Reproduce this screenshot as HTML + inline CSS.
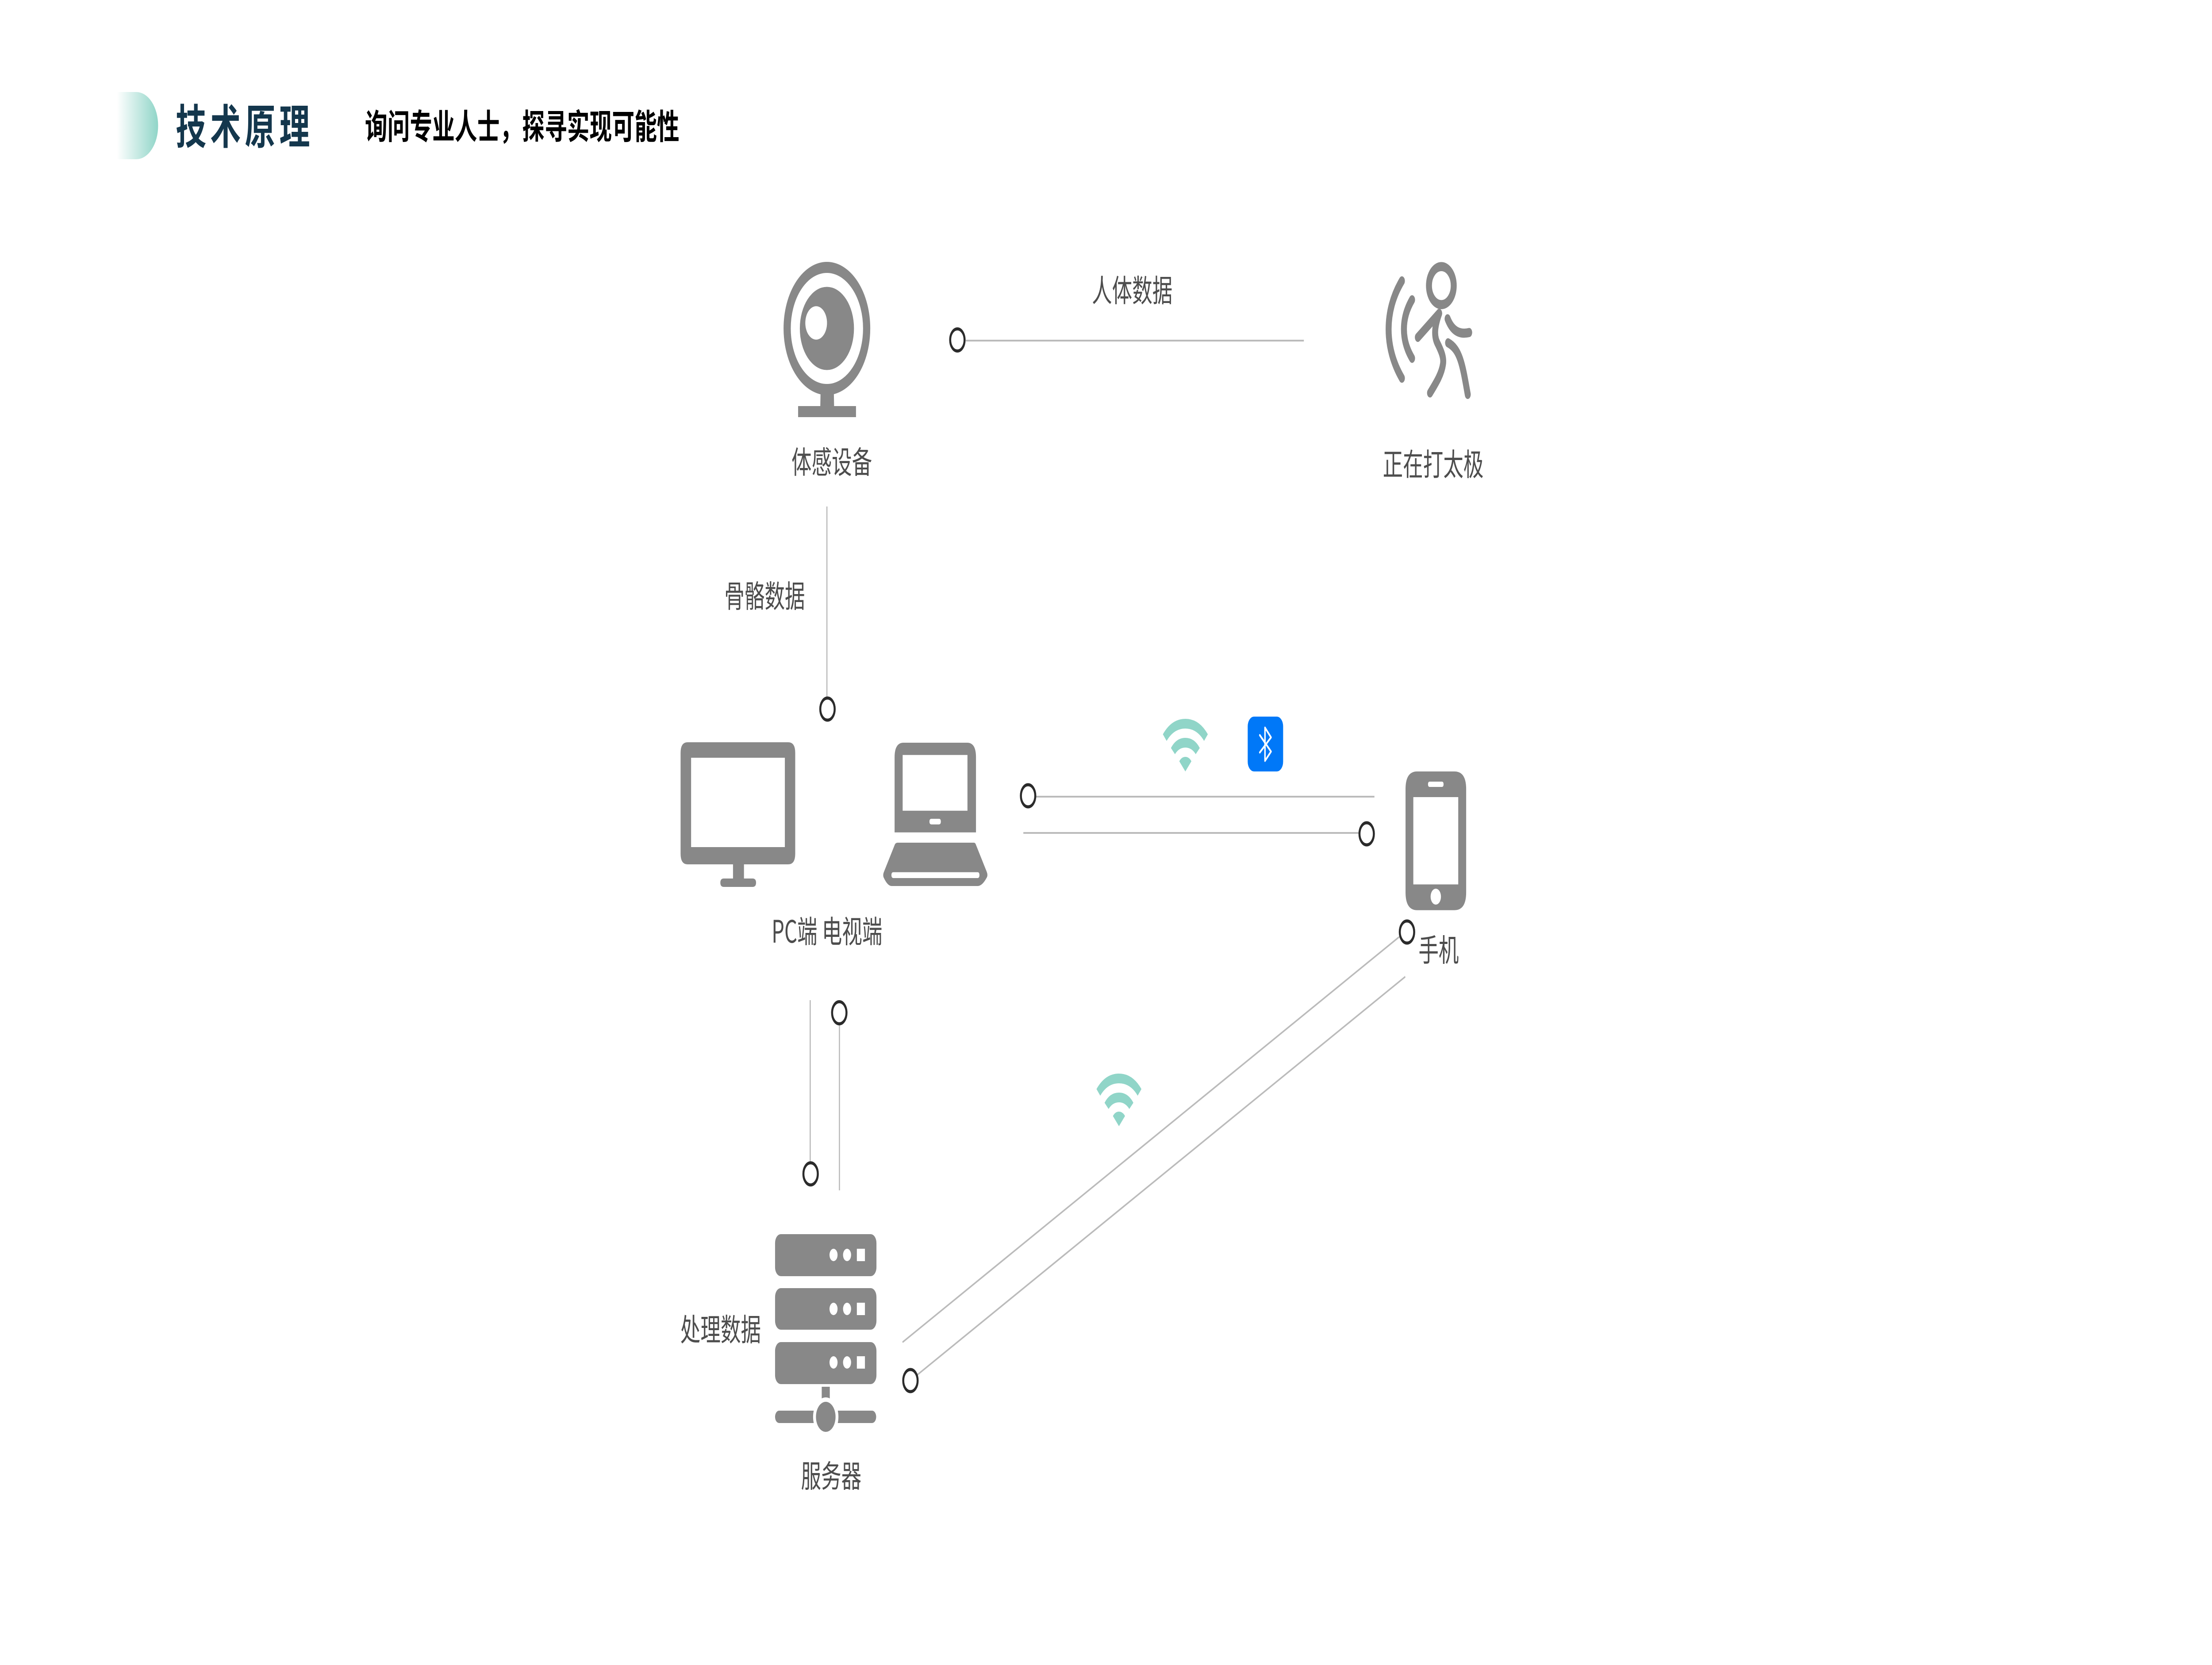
<!DOCTYPE html>
<html lang="zh">
<head>
<meta charset="utf-8">
<title>技术原理</title>
<style>
html,body{margin:0;padding:0;background:#fff;width:100%;height:100%;overflow:hidden}
svg{display:block;position:absolute;left:0;top:0;width:100vw;height:100vh}
text{font-family:"Noto Sans CJK SC","Liberation Sans",sans-serif}
.l{font-size:70px;fill:#4d4d4d}
.ln{stroke:#bbb;stroke-width:4;fill:none}
.c{fill:#fff;stroke:#2b2b2b;stroke-width:7}
.g{fill:#888}
.h{fill:#fff}
</style>
</head>
<body>
<svg xmlns="http://www.w3.org/2000/svg" viewBox="0 0 7680 3764" preserveAspectRatio="none">
<defs>
<linearGradient id="dg" x1="0" x2="1" y1="0" y2="0">
<stop offset="0" stop-color="#fff"/>
<stop offset="1" stop-color="#90d5c8"/>
</linearGradient>
<g id="wifi" fill="#90d5c8">
<path d="M-78-84 Q-48-119 0-119 Q48-119 78-84 L65-69 Q40-97 0-97 Q-40-97-65-69Z"/>
<path d="M-50-53 Q-32-76 0-76 Q32-76 50-53 L36-39 Q22-54 0-54 Q-22-54-36-39Z"/>
<path d="M-21-23 Q-13-33 0-33 Q13-33 21-23 L0 0Z"/>
</g>
</defs>
<rect width="7680" height="3764" fill="#fff"/>

<!-- Header -->
<path d="M406 208 H473 A76 76 0 0 1 473 360 H406Z" fill="url(#dg)"/>
<text x="610" y="325" font-size="106" font-weight="700" fill="#14374d" letter-spacing="14">技术原理</text>
<text x="1267" y="314" font-size="78" font-weight="700" fill="#000">询问专业人士，探寻实现可能性</text>

<!-- Webcam -->
<circle cx="2871" cy="742.5" r="138" fill="none" stroke="#888" stroke-width="25"/>
<circle cx="2871" cy="742.5" r="94" class="g"/>
<circle cx="2833.7" cy="730" r="37.7" class="h"/>
<path class="g" d="M2849 885 H2895 L2896 920 H2848Z"/>
<rect class="g" x="2771" y="918" width="201" height="25"/>

<!-- Person -->
<g transform="translate(4750,560) scale(.33333)" fill="none" stroke="#888" stroke-width="62" stroke-linecap="round" stroke-linejoin="round">
<circle cx="763" cy="257" r="129"/>
<path d="M352 225 C165 430 170 680 352 885"/>
<path d="M458 353 C345 480 345 625 458 750"/>
<path d="M518 608 L740 445"/>
<path d="M740 445 C700 520 680 590 720 645 C770 710 790 750 780 790 C765 860 700 925 645 985"/>
<path d="M828 482 C880 570 960 590 1053 575"/>
<path d="M833 645 C960 690 985 800 1038 995"/>
</g>

<!-- Labels -->
<text class="l" x="2748" y="1070">体感设备</text>
<text class="l" x="3791" y="682">人体数据</text>
<text class="l" x="4801" y="1075">正在打太极</text>
<text class="l" x="2515" y="1373">骨骼数据</text>
<text class="l" x="2679" y="2131">PC端 电视端</text>
<text class="l" x="4925" y="2173">手机</text>
<text class="l" x="2362" y="3031">处理数据</text>
<text class="l" x="2781" y="3362">服务器</text>

<!-- Connectors -->
<line class="ln" x1="3353" y1="770" x2="4527" y2="770"/>
<circle class="c" cx="3324" cy="768.5" r="25"/>
<line class="ln" x1="2871" y1="1145" x2="2871" y2="1578" stroke-width="3"/>
<circle class="c" cx="2873" cy="1603" r="25"/>
<line class="ln" x1="3597" y1="1801" x2="4772" y2="1801"/>
<circle class="c" cx="3569.5" cy="1799" r="25"/>
<line class="ln" x1="3553" y1="1883" x2="4720" y2="1883"/>
<circle class="c" cx="4745" cy="1885" r="25"/>
<line class="ln" x1="2813" y1="2261" x2="2813" y2="2628"/>
<circle class="c" cx="2814.4" cy="2653.7" r="25"/>
<line class="ln" x1="2914.5" y1="2315" x2="2914.5" y2="2691"/>
<circle class="c" cx="2914" cy="2289.5" r="25"/>
<line class="ln" x1="4858" y1="2118" x2="3133.5" y2="3034.4"/>
<circle class="c" cx="4885" cy="2107" r="25"/>
<line class="ln" x1="4879" y1="2208" x2="3185" y2="3108"/>
<circle class="c" cx="3161" cy="3121" r="25"/>

<!-- Monitor -->
<path class="g" fill-rule="evenodd" d="M2387 1678 H2737 Q2761 1678 2761 1702 V1930 Q2761 1954 2737 1954 H2583 V1986 H2613 Q2625 1986 2625 1995.5 Q2625 2005 2613 2005 H2513 Q2501 2005 2501 1995.5 Q2501 1986 2513 1986 H2545 V1954 H2387 Q2363 1954 2363 1930 V1702 Q2363 1678 2387 1678Z M2399.5 1713 V1915 H2725 V1713Z"/>

<!-- Laptop -->
<path class="g" fill-rule="evenodd" d="M3137 1679 H3358 Q3388.6 1679 3388.6 1712 V1881.7 H3106 V1712 Q3106 1679 3137 1679Z M3134 1706.7 V1832.7 H3359 V1706.7Z M3234 1851 Q3227 1851 3227 1857.3 Q3227 1863.7 3234 1863.7 H3260 Q3266.6 1863.7 3266.6 1857.3 Q3266.6 1851 3260 1851Z"/>
<path class="g" fill-rule="evenodd" d="M3117 1905 H3381 Q3386 1905 3388 1909 L3426 1971 Q3431 1979 3425 1985 Q3410 2003 3394 2003 H3096 Q3082 2003 3069 1985 Q3064 1979 3069 1971 L3107 1909 Q3110 1905 3117 1905Z M3102 1971.7 Q3095 1971.7 3095 1978.3 Q3095 1985 3102 1985 H3394 Q3400.6 1985 3400.6 1978.3 Q3400.6 1971.7 3394 1971.7Z"/>

<!-- Wifi icons -->
<use href="#wifi" x="4115.5" y="1744"/>
<use href="#wifi" x="3885" y="2546"/>

<!-- Bluetooth -->
<rect x="4332" y="1620" width="123" height="124" rx="22" fill="#0078f8"/>
<path d="M4374 1662 L4413 1699 L4392 1720 V1645 L4413 1667 L4374 1701" fill="none" stroke="#fff" stroke-width="5" stroke-linecap="round" stroke-linejoin="round"/>

<!-- Phone -->
<path class="g" fill-rule="evenodd" d="M4920 1744 H5050 Q5090.5 1744 5090.5 1784 V2017 Q5090.5 2057.6 5050 2057.6 H4920 Q4880 2057.6 4880 2017 V1784 Q4880 1744 4920 1744Z M4907 1802 V1999.4 H5063 V1802Z M4964 1767 Q4958 1767 4958 1773 Q4958 1779 4964 1779 H5006 Q5012 1779 5012 1773 Q5012 1767 5006 1767Z"/>
<circle class="h" cx="4985" cy="2027" r="18"/>

<!-- Server -->
<rect class="g" x="2691" y="2790" width="352" height="95" rx="20"/>
<rect class="g" x="2691" y="2912" width="352" height="94" rx="20"/>
<rect class="g" x="2691" y="3034" width="352" height="95" rx="20"/>
<circle class="h" cx="2894" cy="2837" r="14"/><circle class="h" cx="2941" cy="2837" r="14"/><rect class="h" x="2975" y="2823" width="28" height="28"/>
<circle class="h" cx="2894" cy="2959" r="14"/><circle class="h" cx="2941" cy="2959" r="14"/><rect class="h" x="2975" y="2945" width="28" height="28"/>
<circle class="h" cx="2894" cy="3080" r="14"/><circle class="h" cx="2941" cy="3080" r="14"/><rect class="h" x="2975" y="3066" width="28" height="28"/>
<rect class="g" x="2853" y="3135" width="28" height="28"/>
<rect class="g" x="2691" y="3189" width="351" height="28" rx="14"/>
<circle class="h" cx="2867" cy="3203" r="44"/>
<circle class="g" cx="2867" cy="3203" r="34"/>
</svg>
</body>
</html>
